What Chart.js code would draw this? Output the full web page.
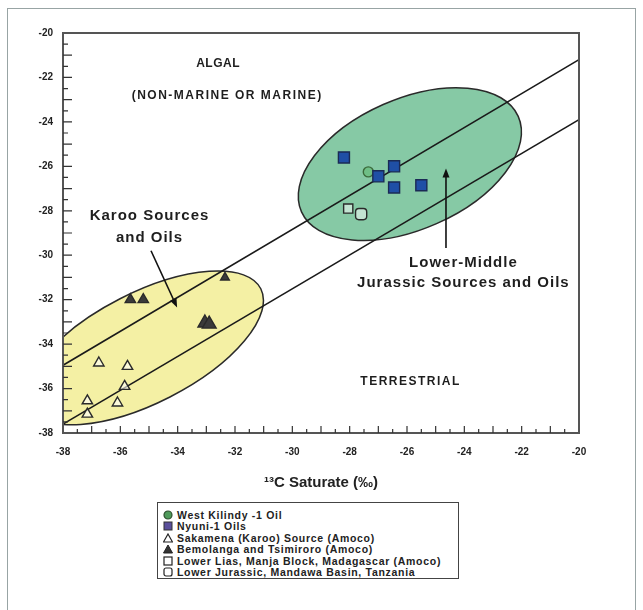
<!DOCTYPE html>
<html>
<head>
<meta charset="utf-8">
<script src="https://cdn.jsdelivr.net/npm/chart.js@4.4.0/dist/chart.umd.min.js"></script>
<style>
  body { margin: 0; background: #fff; font-family: "Liberation Sans", Arial, sans-serif; }
  #wrap { position: relative; width: 643px; height: 610px; overflow: hidden; }
  #border { position: absolute; left: 7px; top: 8px; width: 629px; height: 620px; border: 1px solid #98a4a4; box-sizing: border-box; }
  #chart { position: absolute; left: 0; top: 0; }
  #legend { position: absolute; left: 157px; top: 502px; width: 302px; height: 77px; border: 1.5px solid #444; box-sizing: border-box; padding: 7px 0 0 5px; background: #fff; }
  #legend div { font-size: 10.5px; font-weight: bold; color: #222; height: 11.4px; line-height: 11.4px; white-space: nowrap; letter-spacing: 0.7px; }
  #legend svg { vertical-align: -1px; margin-right: 4px; }
</style>
</head>
<body>
<div id="wrap">
  <div id="border"></div>
  <canvas id="chart" width="643" height="610"></canvas>
  <div id="legend"></div>
</div>
<script>
// axis ticks
const xTicks = [-38, -36, -34, -32, -30, -28, -26, -24, -22, -20];
const yTicks = [-38, -36, -34, -32, -30, -28, -26, -24, -22, -20];

// samples (d13C saturate, d13C aromatic)
const westKilindyX = [-27.35];
const westKilindyY = [-26.25];
const nyuniX = [-28.2, -26.45, -27.0, -26.45, -25.5];
const nyuniY = [-25.6, -26.0, -26.45, -26.95, -26.85];
const sakamenaX = [-36.75, -35.75, -35.85, -37.15, -36.1, -37.15];
const sakamenaY = [-34.85, -35.0, -35.9, -36.55, -36.65, -37.15];
const bemolangaX = [-35.65, -35.2, -33.05, -32.9, -32.35];
const bemolangaY = [-32.0, -32.0, -33.05, -33.1, -31.0];
const lowerLiasX = [-28.05];
const lowerLiasY = [-27.9];
const mandawaX = [-27.6];
const mandawaY = [-28.15];

// algal / terrestrial boundary lines
const boundaryX = [-38, -20];
const upperLineY = [-34.95, -21.2];
const lowerLineY = [-37.6, -23.9];

// fields drawn as ellipses: centre and two conjugate half-axes, in data units
const karooField = { centre: [-35.14, -34.17], u: [4.04, 2.66], v: [-0.87, 2.21], fill: "#f4f0a4" };
const jurassicField = { centre: [-25.9, -25.9], u: [3.78, 2.15], v: [-0.93, 2.68], fill: "#86c9a5" };

const labels = [
    { text: "ALGAL", at: [-32.6, -21.4], size: 12, spacing: 0.5 },
    { text: "(NON-MARINE OR MARINE)", at: [-32.3, -22.8], size: 12, spacing: 1.5 },
    { text: "Karoo Sources", at: [-35.0, -28.25], size: 15, spacing: 1 },
    { text: "and Oils", at: [-35.0, -29.2], size: 15, spacing: 1 },
    { text: "Lower-Middle", at: [-24.05, -30.35], size: 15, spacing: 1 },
    { text: "Jurassic Sources and Oils", at: [-24.05, -31.25], size: 15, spacing: 1 },
    { text: "TERRESTRIAL", at: [-25.9, -35.7], size: 12, spacing: 1.5 },
];
const arrows = [
    { from: [-34.93, -29.8], to: [-34.02, -32.35] },
    { from: [-24.64, -29.67], to: [-24.64, -26.1] },
];

function pts(xs, ys) {
    return xs.map((x, i) => ({ x: x, y: ys[i] }));
}

const INK = "#2a2a2a";

const drawFields = {
    id: "fields",
    beforeDatasetsDraw(chart) {
        const { ctx, chartArea: a, scales: { x, y } } = chart;
        ctx.save();
        ctx.beginPath();
        ctx.rect(a.left, a.top, a.right - a.left, a.bottom - a.top);
        ctx.clip();
        [karooField, jurassicField].forEach((f) => {
            const cx = x.getPixelForValue(f.centre[0]);
            const cy = y.getPixelForValue(f.centre[1]);
            const ux = x.getPixelForValue(f.centre[0] + f.u[0]) - cx;
            const uy = y.getPixelForValue(f.centre[1] + f.u[1]) - cy;
            const vx = x.getPixelForValue(f.centre[0] + f.v[0]) - cx;
            const vy = y.getPixelForValue(f.centre[1] + f.v[1]) - cy;
            ctx.save();
            ctx.transform(ux, uy, vx, vy, cx, cy);
            ctx.beginPath();
            ctx.arc(0, 0, 1, 0, Math.PI * 2);
            ctx.restore();
            ctx.fillStyle = f.fill;
            ctx.fill();
            ctx.lineWidth = 1.5;
            ctx.strokeStyle = INK;
            ctx.stroke();
        });
        ctx.restore();
    },
    afterDatasetsDraw(chart) {
        const { ctx, chartArea: a, scales: { x, y } } = chart;
        ctx.save();
        // frame
        ctx.strokeStyle = "#555";
        ctx.lineWidth = 2;
        ctx.strokeRect(a.left, a.top, a.right - a.left, a.bottom - a.top);
        // inward tick marks every 0.5
        ctx.lineWidth = 1.2;
        ctx.strokeStyle = "#333";
        ctx.beginPath();
        for (let v = -37.5; v < -20; v += 0.5) {
            const major = Number.isInteger(v);
            const px = x.getPixelForValue(v);
            ctx.moveTo(px, a.bottom);
            ctx.lineTo(px, a.bottom - (major ? 7 : 4));
            const py = y.getPixelForValue(v);
            ctx.moveTo(a.left, py);
            ctx.lineTo(a.left + (major ? 9 : 5), py);
        }
        ctx.stroke();
        // arrows
        ctx.strokeStyle = "#111";
        ctx.fillStyle = "#111";
        ctx.lineWidth = 1.6;
        arrows.forEach((ar) => {
            const x0 = x.getPixelForValue(ar.from[0]), y0 = y.getPixelForValue(ar.from[1]);
            const x1 = x.getPixelForValue(ar.to[0]), y1 = y.getPixelForValue(ar.to[1]);
            const ang = Math.atan2(y1 - y0, x1 - x0);
            ctx.beginPath();
            ctx.moveTo(x0, y0);
            ctx.lineTo(x1 - 6 * Math.cos(ang), y1 - 6 * Math.sin(ang));
            ctx.stroke();
            ctx.beginPath();
            ctx.moveTo(x1, y1);
            ctx.lineTo(x1 - 9 * Math.cos(ang) + 3.5 * Math.sin(ang), y1 - 9 * Math.sin(ang) - 3.5 * Math.cos(ang));
            ctx.lineTo(x1 - 9 * Math.cos(ang) - 3.5 * Math.sin(ang), y1 - 9 * Math.sin(ang) + 3.5 * Math.cos(ang));
            ctx.closePath();
            ctx.fill();
        });
        // annotation text
        ctx.textAlign = "center";
        ctx.textBaseline = "middle";
        ctx.fillStyle = "#1e1e1e";
        labels.forEach((l) => {
            ctx.font = "bold " + l.size + "px 'Liberation Sans', Arial, sans-serif";
            ctx.letterSpacing = l.spacing + "px";
            ctx.fillText(l.text, x.getPixelForValue(l.at[0]) + l.spacing / 2, y.getPixelForValue(l.at[1]));
        });
        ctx.restore();
    },
};

const markerBase = { showLine: false, borderColor: INK, borderWidth: 1.4 };
const tickFont = { family: "'Liberation Sans', Arial", size: 10, weight: "bold" };

new Chart(document.getElementById("chart"), {
    type: "scatter",
    data: {
        datasets: [
            { ...markerBase, label: "Nyuni-1 Oils", data: pts(nyuniX, nyuniY), pointStyle: "rect", pointRadius: 7.8, backgroundColor: "#1f4fa6", borderColor: "#1a2a55" },
            { ...markerBase, label: "West Kilindy -1 Oil", data: pts(westKilindyX, westKilindyY), pointStyle: "circle", pointRadius: 5, backgroundColor: "#6fbf86", borderColor: "#3b6a3b" },
            { ...markerBase, label: "Sakamena (Karoo) Source (Amoco)", data: pts(sakamenaX, sakamenaY), pointStyle: "triangle", pointRadius: 6, backgroundColor: "rgba(255,255,255,0.6)" },
            { ...markerBase, label: "Bemolanga and Tsimiroro (Amoco)", data: pts(bemolangaX, bemolangaY), pointStyle: "triangle", pointRadius: [6, 6, 8, 8, 5], backgroundColor: "#3a3a3a" },
            { ...markerBase, label: "Lower Lias, Manja Block, Madagascar (Amoco)", data: pts(lowerLiasX, lowerLiasY), pointStyle: "rect", pointRadius: 6.5, backgroundColor: "rgba(255,255,255,0.5)" },
            { ...markerBase, label: "Lower Jurassic, Mandawa Basin, Tanzania", data: pts(mandawaX, mandawaY), pointStyle: "rectRounded", pointRadius: 6.5, backgroundColor: "rgba(255,255,255,0.5)" },
            { label: "upper boundary", data: pts(boundaryX, upperLineY), showLine: true, pointRadius: 0, borderColor: "#1a1a1a", borderWidth: 1.6, order: 5 },
            { label: "lower boundary", data: pts(boundaryX, lowerLineY), showLine: true, pointRadius: 0, borderColor: "#1a1a1a", borderWidth: 1.6, order: 5 },
        ],
    },
    options: {
        responsive: false,
        animation: false,
        layout: { padding: { left: 0, right: 64, top: 33, bottom: 116 } },
        plugins: { legend: { display: false }, tooltip: { enabled: false } },
        scales: {
            x: {
                type: "linear",
                min: -38,
                max: -20,
                afterBuildTicks: (s) => { s.ticks = xTicks.map((v) => ({ value: v })); },
                afterFit: (s) => { s.height = 61; },
                grid: { display: false, drawTicks: false },
                border: { display: false },
                ticks: { padding: 13, color: "#222", font: tickFont },
                title: { display: true, text: "¹³C Saturate (‰)", color: "#222", padding: { top: 0, bottom: 2 }, font: { family: "'Liberation Sans', Arial", size: 15, weight: "bold" } },
            },
            y: {
                type: "linear",
                min: -38,
                max: -20,
                afterBuildTicks: (s) => { s.ticks = yTicks.map((v) => ({ value: v })); },
                afterFit: (s) => { s.width = 63; },
                grid: { display: false, drawTicks: false },
                border: { display: false },
                ticks: { padding: 10, color: "#222", font: tickFont },
            },
        },
    },
    plugins: [drawFields],
});

// legend box
const legendItems = [
    { text: "West Kilindy -1 Oil", icon: '<circle cx="5" cy="5" r="4" fill="#4e9a5a" stroke="#2f4f2f" stroke-width="1.2"/>' },
    { text: "Nyuni-1 Oils", icon: '<rect x="1" y="1" width="8" height="8" fill="#5a4f9c" stroke="#333" stroke-width="1"/>' },
    { text: "Sakamena (Karoo) Source (Amoco)", icon: '<polygon points="5,1 9.5,9 0.5,9" fill="#fff" stroke="#222" stroke-width="1.2"/>' },
    { text: "Bemolanga and Tsimiroro (Amoco)", icon: '<polygon points="5,1 9.5,9 0.5,9" fill="#333" stroke="#222" stroke-width="1"/>' },
    { text: "Lower Lias, Manja Block, Madagascar (Amoco)", icon: '<rect x="1" y="1" width="8" height="8" fill="#fff" stroke="#222" stroke-width="1.2"/>' },
    { text: "Lower Jurassic, Mandawa Basin, Tanzania", icon: '<rect x="1" y="1" width="8" height="8" rx="2" fill="#fff" stroke="#222" stroke-width="1.2"/>' },
];
document.getElementById("legend").innerHTML = legendItems
    .map((it) => '<div><svg width="10" height="10" viewBox="0 0 10 10">' + it.icon + "</svg>" + it.text + "</div>")
    .join("");
</script>
</body>
</html>
